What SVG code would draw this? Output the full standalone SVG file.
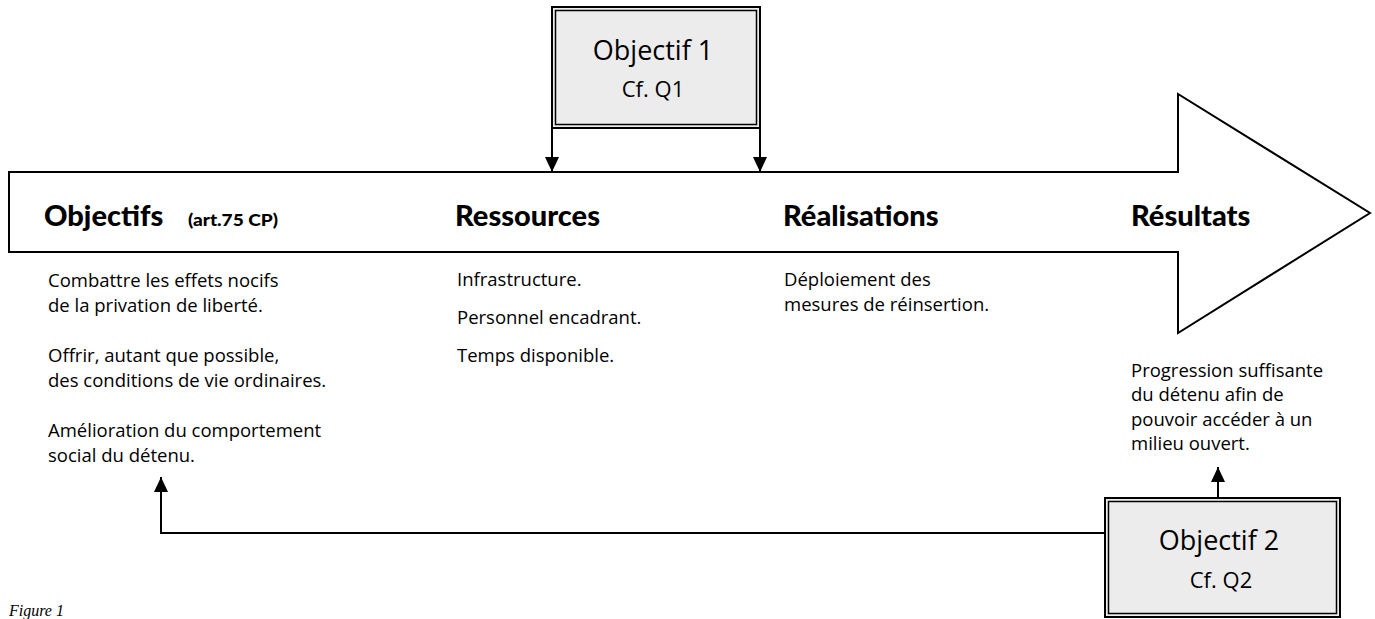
<svg xmlns="http://www.w3.org/2000/svg" width="1375" height="619" viewBox="0 0 1375 619">
<style>
.ln{fill:none;stroke:#000;stroke-width:2}
.boxo{fill:#ececec;stroke:#000;stroke-width:2}
.boxi{fill:#ececec;stroke:#000;stroke-width:1.5}
.hd{font-family:"Lato","Open Sans","Liberation Sans",sans-serif;font-weight:900;font-size:29px;fill:#000}
.sm{font-family:"Lato","Open Sans","Liberation Sans",sans-serif;font-weight:900;font-size:17px;fill:#000}
.tx{font-family:"Open Sans","Liberation Sans",sans-serif;font-size:18.5px;fill:#000}
.bt{font-family:"Open Sans","Liberation Sans",sans-serif;font-size:27px;fill:#000;text-anchor:middle}
.bs{font-family:"Open Sans","Liberation Sans",sans-serif;font-size:22px;fill:#000;text-anchor:middle}
.fig{font-family:"Liberation Serif",serif;font-style:italic;font-size:16px;fill:#000}
</style>
<defs>
<marker id="ah" viewBox="0 0 15 14" refX="15" refY="7" markerWidth="15" markerHeight="14" markerUnits="userSpaceOnUse" orient="auto">
<path d="M0,0 L15,7 L0,14 Z" fill="#000"/>
</marker>
</defs>
<rect width="1375" height="619" fill="#fff"/>

<g id="main-arrow">
<path d="M9,172 L1178,172 L1178,94 L1370,213 L1178,333 L1178,252 L9,252 Z" fill="#fff" stroke="#000" stroke-width="2"/>
<text class="hd" x="44" y="226">Objectifs</text>
<text class="sm" x="188" y="226" textLength="90" lengthAdjust="spacingAndGlyphs">(art.75 CP)</text>
<text class="hd" x="455" y="226">Ressources</text>
<text class="hd" x="783" y="226">Réalisations</text>
<text class="hd" x="1131" y="226">Résultats</text>
</g>

<g id="objectifs-text">
<text class="tx" x="48" y="287">Combattre les effets nocifs</text>
<text class="tx" x="48" y="312">de la privation de liberté.</text>
<text class="tx" x="48" y="362">Offrir, autant que possible,</text>
<text class="tx" x="48" y="387">des conditions de vie ordinaires.</text>
<text class="tx" x="48" y="437">Amélioration du comportement</text>
<text class="tx" x="48" y="462">social du détenu.</text>
</g>

<g id="ressources-text">
<text class="tx" x="457" y="286">Infrastructure.</text>
<text class="tx" x="457" y="324">Personnel encadrant.</text>
<text class="tx" x="457" y="362">Temps disponible.</text>
</g>

<g id="realisations-text">
<text class="tx" x="784" y="286">Déploiement des</text>
<text class="tx" x="784" y="311">mesures de réinsertion.</text>
</g>

<g id="resultats-text">
<text class="tx" x="1131" y="377">Progression suffisante</text>
<text class="tx" x="1131" y="401">du détenu afin de</text>
<text class="tx" x="1131" y="426">pouvoir accéder à un</text>
<text class="tx" x="1131" y="450">milieu ouvert.</text>
</g>

<g id="objectif1">
<rect class="boxo" x="552" y="7" width="208" height="121"/>
<rect class="boxi" x="555.5" y="10.5" width="201" height="114"/>
<text class="bt" x="653" y="60">Objectif 1</text>
<text class="bs" x="653" y="97">Cf. Q1</text>
</g>

<g id="objectif2">
<rect class="boxo" x="1105" y="498" width="235" height="119"/>
<rect class="boxi" x="1108.5" y="501.5" width="228" height="112"/>
<text class="bt" x="1219" y="550">Objectif 2</text>
<text class="bs" x="1221" y="588">Cf. Q2</text>
</g>

<g id="connectors">
<line class="ln" x1="552" y1="128" x2="552" y2="172" marker-end="url(#ah)"/>
<line class="ln" x1="760" y1="128" x2="760" y2="172" marker-end="url(#ah)"/>
<line class="ln" x1="1218" y1="498" x2="1218" y2="467" marker-end="url(#ah)"/>
<polyline class="ln" points="1105,533 161,533 161,477" marker-end="url(#ah)"/>
</g>

<text class="fig" x="9" y="616">Figure 1</text>
</svg>
